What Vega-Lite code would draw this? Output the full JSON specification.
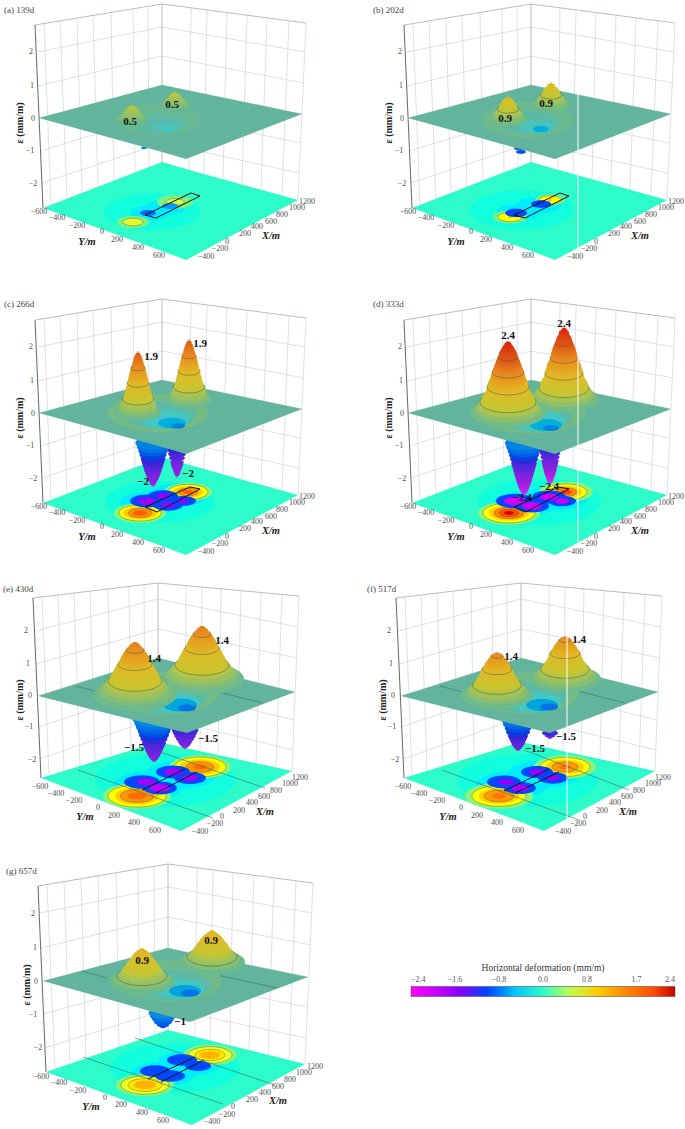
{"$schema":"https://vega.github.io/schema/vega-lite/v6.json","padding":0,"autosize":{"type":"pad"},"background":"white","config":{"view":{"stroke":null},"headerFacet":{"labels":false,"title":null,"labelPadding":0,"titlePadding":0},"header":{"labels":false,"title":null,"labelPadding":0,"titlePadding":0}},
"data":{"values":[
{"p":["a","b","c","d"],"k":"g","u":44,"v":24,"u2":51,"v2":205},{"p":["a","b","c","d"],"k":"g","u":60,"v":21,"u2":67,"v2":199},{"p":["a","b","c","d"],"k":"g","u":77,"v":18,"u2":82,"v2":193},{"p":["a","b","c","d"],"k":"g","u":93,"v":15,"u2":98,"v2":187},{"p":["a","b","c","d"],"k":"g","u":111,"v":12,"u2":114,"v2":180},{"p":["a","b","c","d"],"k":"g","u":133,"v":9,"u2":135,"v2":173},{"p":["a","b","c","d"],"k":"g","u":148,"v":6,"u2":149,"v2":167},
{"p":["a","b","c","d"],"k":"g","u":191,"v":8,"u2":189,"v2":170},{"p":["a","b","c","d"],"k":"g","u":207,"v":10,"u2":204,"v2":174},{"p":["a","b","c","d"],"k":"g","u":227,"v":13,"u2":223,"v2":179},{"p":["a","b","c","d"],"k":"g","u":247,"v":15,"u2":242,"v2":184},{"p":["a","b","c","d"],"k":"g","u":267,"v":18,"u2":261,"v2":190},{"p":["a","b","c","d"],"k":"g","u":289,"v":21,"u2":282,"v2":195},
{"p":["a","b","c","d"],"k":"g","u":38,"v":52,"u2":162,"v2":27},{"p":["a","b","c","d"],"k":"g","u":38,"v":86,"u2":162,"v2":56},{"p":["a","b","c","d"],"k":"g","u":39,"v":118,"u2":162,"v2":85},{"p":["a","b","c","d"],"k":"g","u":40,"v":151,"u2":162,"v2":114},{"p":["a","b","c","d"],"k":"g","u":42,"v":183,"u2":162,"v2":143},
{"p":["a","b","c","d"],"k":"g","u":162,"v":27,"u2":305,"v2":52},{"p":["a","b","c","d"],"k":"g","u":162,"v":56,"u2":304,"v2":83},{"p":["a","b","c","d"],"k":"g","u":162,"v":85,"u2":302,"v2":114},{"p":["a","b","c","d"],"k":"g","u":162,"v":114,"u2":300,"v2":143},{"p":["a","b","c","d"],"k":"g","u":162,"v":143,"u2":299,"v2":173},
{"p":["a","b","c","d"],"k":"g","u":306,"v":23,"u2":298,"v2":200},
{"p":["a","b","c","d"],"k":"e","u":35,"v":25,"u2":162,"v2":4},{"p":["a","b","c","d"],"k":"e","u":162,"v":4,"u2":306,"v2":23},{"p":["a","b","c","d"],"k":"e","u":162,"v":4,"u2":162,"v2":162},{"p":["a","b","c","d"],"k":"d","u":35,"v":25,"u2":43,"v2":208},
{"p":["e"],"k":"g","u":42,"v":7,"u2":49,"v2":185},{"p":["e"],"k":"g","u":58,"v":5,"u2":64,"v2":181},{"p":["e"],"k":"g","u":74,"v":3,"u2":80,"v2":176},{"p":["e"],"k":"g","u":90,"v":1,"u2":95,"v2":171},{"p":["e"],"k":"g","u":108,"v":-1,"u2":111,"v2":166},{"p":["e"],"k":"g","u":129,"v":-4,"u2":131,"v2":160},{"p":["e"],"k":"g","u":144,"v":-5,"u2":145,"v2":156},
{"p":["e"],"k":"g","u":186,"v":-4,"u2":185,"v2":158},{"p":["e"],"k":"g","u":202,"v":-3,"u2":200,"v2":161},{"p":["e"],"k":"g","u":221,"v":-1,"u2":218,"v2":165},{"p":["e"],"k":"g","u":241,"v":1,"u2":237,"v2":169},{"p":["e"],"k":"g","u":261,"v":2,"u2":256,"v2":173},{"p":["e"],"k":"g","u":282,"v":4,"u2":276,"v2":178},
{"p":["e"],"k":"g","u":35,"v":41,"u2":158,"v2":9},{"p":["e"],"k":"g","u":36,"v":74,"u2":158,"v2":39},{"p":["e"],"k":"g","u":37,"v":106,"u2":158,"v2":68},{"p":["e"],"k":"g","u":38,"v":137,"u2":158,"v2":97},{"p":["e"],"k":"g","u":40,"v":169,"u2":158,"v2":127},
{"p":["e"],"k":"g","u":158,"v":9,"u2":298,"v2":37},{"p":["e"],"k":"g","u":158,"v":39,"u2":297,"v2":68},{"p":["e"],"k":"g","u":158,"v":68,"u2":295,"v2":102},{"p":["e"],"k":"g","u":158,"v":97,"u2":294,"v2":130},{"p":["e"],"k":"g","u":158,"v":127,"u2":293,"v2":160},
{"p":["e"],"k":"g","u":299,"v":6,"u2":292,"v2":181},
{"p":["e"],"k":"e","u":33,"v":8,"u2":158,"v2":-7},{"p":["e"],"k":"e","u":158,"v":-7,"u2":299,"v2":6},{"p":["e"],"k":"e","u":158,"v":-7,"u2":158,"v2":152},{"p":["e"],"k":"d","u":33,"v":8,"u2":41,"v2":188},
{"p":["f"],"k":"g","u":36,"v":7,"u2":43,"v2":185},{"p":["f"],"k":"g","u":52,"v":5,"u2":58,"v2":181},{"p":["f"],"k":"g","u":68,"v":3,"u2":74,"v2":176},{"p":["f"],"k":"g","u":84,"v":1,"u2":89,"v2":171},{"p":["f"],"k":"g","u":102,"v":-1,"u2":105,"v2":166},{"p":["f"],"k":"g","u":123,"v":-4,"u2":125,"v2":160},{"p":["f"],"k":"g","u":138,"v":-5,"u2":139,"v2":156},
{"p":["f"],"k":"g","u":180,"v":-4,"u2":179,"v2":158},{"p":["f"],"k":"g","u":196,"v":-3,"u2":194,"v2":161},{"p":["f"],"k":"g","u":215,"v":-1,"u2":212,"v2":165},{"p":["f"],"k":"g","u":235,"v":1,"u2":231,"v2":169},{"p":["f"],"k":"g","u":255,"v":2,"u2":250,"v2":173},{"p":["f"],"k":"g","u":276,"v":4,"u2":270,"v2":178},
{"p":["f"],"k":"g","u":29,"v":41,"u2":152,"v2":9},{"p":["f"],"k":"g","u":30,"v":74,"u2":152,"v2":39},{"p":["f"],"k":"g","u":31,"v":106,"u2":152,"v2":68},{"p":["f"],"k":"g","u":32,"v":137,"u2":152,"v2":97},{"p":["f"],"k":"g","u":34,"v":169,"u2":152,"v2":127},
{"p":["f"],"k":"g","u":152,"v":9,"u2":292,"v2":37},{"p":["f"],"k":"g","u":152,"v":39,"u2":291,"v2":68},{"p":["f"],"k":"g","u":152,"v":68,"u2":289,"v2":102},{"p":["f"],"k":"g","u":152,"v":97,"u2":288,"v2":130},{"p":["f"],"k":"g","u":152,"v":127,"u2":287,"v2":160},
{"p":["f"],"k":"g","u":293,"v":6,"u2":286,"v2":181},
{"p":["f"],"k":"e","u":27,"v":8,"u2":152,"v2":-7},{"p":["f"],"k":"e","u":152,"v":-7,"u2":293,"v2":6},{"p":["f"],"k":"e","u":152,"v":-7,"u2":152,"v2":152},{"p":["f"],"k":"d","u":27,"v":8,"u2":35,"v2":188},
{"p":["g"],"k":"g","u":47,"v":0,"u2":55,"v2":184},{"p":["g"],"k":"g","u":64,"v":-3,"u2":70,"v2":179},{"p":["g"],"k":"g","u":81,"v":-6,"u2":86,"v2":173},{"p":["g"],"k":"g","u":98,"v":-9,"u2":102,"v2":168},{"p":["g"],"k":"g","u":116,"v":-12,"u2":119,"v2":162},{"p":["g"],"k":"g","u":138,"v":-16,"u2":140,"v2":155},{"p":["g"],"k":"g","u":154,"v":-19,"u2":155,"v2":150},
{"p":["g"],"k":"g","u":197,"v":-17,"u2":195,"v2":152},{"p":["g"],"k":"g","u":213,"v":-15,"u2":210,"v2":156},{"p":["g"],"k":"g","u":233,"v":-12,"u2":230,"v2":160},{"p":["g"],"k":"g","u":254,"v":-10,"u2":249,"v2":165},{"p":["g"],"k":"g","u":274,"v":-7,"u2":268,"v2":170},{"p":["g"],"k":"g","u":296,"v":-4,"u2":289,"v2":175},
{"p":["g"],"k":"g","u":40,"v":28,"u2":168,"v2":2},{"p":["g"],"k":"g","u":41,"v":63,"u2":168,"v2":32},{"p":["g"],"k":"g","u":43,"v":96,"u2":168,"v2":63},{"p":["g"],"k":"g","u":44,"v":129,"u2":168,"v2":94},{"p":["g"],"k":"g","u":45,"v":163,"u2":168,"v2":124},
{"p":["g"],"k":"g","u":168,"v":2,"u2":312,"v2":28},{"p":["g"],"k":"g","u":168,"v":32,"u2":311,"v2":60},{"p":["g"],"k":"g","u":168,"v":63,"u2":308,"v2":92},{"p":["g"],"k":"g","u":168,"v":94,"u2":307,"v2":122},{"p":["g"],"k":"g","u":168,"v":124,"u2":306,"v2":153},
{"p":["g"],"k":"g","u":313,"v":-2,"u2":305,"v2":179},
{"p":["g"],"k":"e","u":38,"v":1,"u2":168,"v2":-21},{"p":["g"],"k":"e","u":168,"v":-21,"u2":313,"v2":-2},{"p":["g"],"k":"e","u":168,"v":-21,"u2":168,"v2":145},{"p":["g"],"k":"d","u":38,"v":1,"u2":46,"v2":187},

{"p":["a","b","c","d"],"k":"f","e":0,"u":43,"v":208,"v2":208},{"p":["a","b","c","d"],"k":"f","e":0,"u":162,"v":162,"v2":251},{"p":["a","b","c","d"],"k":"f","e":0,"u":186,"v":169,"v2":260},{"p":["a","b","c","d"],"k":"f","e":0,"u":298,"v":200,"v2":200},
{"p":["e"],"k":"f","e":0,"u":41,"v":188,"v2":188},{"p":["e"],"k":"f","e":0,"u":158,"v":152,"v2":232},{"p":["e"],"k":"f","e":0,"u":181,"v":157,"v2":241},{"p":["e"],"k":"f","e":0,"u":292,"v":181,"v2":181},
{"p":["f"],"k":"f","e":0,"u":35,"v":188,"v2":188},{"p":["f"],"k":"f","e":0,"u":152,"v":152,"v2":232},{"p":["f"],"k":"f","e":0,"u":175,"v":157,"v2":241},{"p":["f"],"k":"f","e":0,"u":286,"v":181,"v2":181},
{"p":["g"],"k":"f","e":0,"u":46,"v":187,"v2":187},{"p":["g"],"k":"f","e":0,"u":168,"v":145,"v2":231},{"p":["g"],"k":"f","e":0,"u":192,"v":151,"v2":240},{"p":["g"],"k":"f","e":0,"u":305,"v":179,"v2":179},

{"p":["a","b","c","d"],"k":"q","e":0,"u":39,"v":118,"v2":118},{"p":["a","b","c","d"],"k":"q","e":0,"u":162,"v":85,"v2":152},{"p":["a","b","c","d"],"k":"q","e":0,"u":186,"v":90,"v2":159},{"p":["a","b","c","d"],"k":"q","e":0,"u":302,"v":114,"v2":114},
{"p":["e"],"k":"q","e":0,"u":38,"v":106,"v2":106},{"p":["e"],"k":"q","e":0,"u":158,"v":68,"v2":136},{"p":["e"],"k":"q","e":0,"u":187,"v":75,"v2":143},{"p":["e"],"k":"q","e":0,"u":295,"v":102,"v2":102},
{"p":["f"],"k":"q","e":0,"u":32,"v":106,"v2":106},{"p":["f"],"k":"q","e":0,"u":152,"v":68,"v2":136},{"p":["f"],"k":"q","e":0,"u":181,"v":75,"v2":143},{"p":["f"],"k":"q","e":0,"u":289,"v":102,"v2":102},
{"p":["g"],"k":"q","e":0,"u":43,"v":96,"v2":96},{"p":["g"],"k":"q","e":0,"u":168,"v":63,"v2":131},{"p":["g"],"k":"q","e":0,"u":190,"v":68,"v2":137},{"p":["g"],"k":"q","e":0,"u":308,"v":92,"v2":92},

{"p":"a","k":"b","u":152,"v":212,"e":-0.06,"r":48},{"p":"a","k":"b","u":150,"v":213,"e":-0.3,"r":20},{"p":"a","k":"b","u":165,"v":208,"e":-0.3,"r":20},{"p":"a","k":"b","u":133,"v":222,"e":0.25,"r":16},{"p":"a","k":"b","u":133,"v":222,"e":0.6,"r":10,"c":1},{"p":"a","k":"b","u":175,"v":202,"e":0.25,"r":18},{"p":"a","k":"b","u":175,"v":202,"e":0.55,"r":9,"c":1},{"p":"a","k":"b","u":148,"v":213,"e":-0.9,"r":8},{"p":"a","k":"b","u":170,"v":206,"e":-0.7,"r":8},
{"p":"b","k":"b","u":153,"v":210,"e":-0.06,"r":52},{"p":"b","k":"b","u":150,"v":212,"e":-0.3,"r":22},{"p":"b","k":"b","u":170,"v":205,"e":-0.3,"r":22},{"p":"b","k":"b","u":141,"v":217,"e":0.25,"r":17},{"p":"b","k":"b","u":141,"v":217,"e":0.7,"r":12,"c":1},{"p":"b","k":"b","u":141,"v":217,"e":1.3,"r":2},{"p":"b","k":"b","u":181,"v":200,"e":0.25,"r":15},{"p":"b","k":"b","u":181,"v":200,"e":0.7,"r":11,"c":1},{"p":"b","k":"b","u":181,"v":200,"e":1.3,"r":2},{"p":"b","k":"b","u":147,"v":213,"e":-1,"r":11},{"p":"b","k":"b","u":172,"v":204,"e":-1,"r":10},
{"p":"c","k":"b","u":160,"v":207,"e":-0.06,"r":55},{"p":"c","k":"b","u":150,"v":208,"e":-0.3,"r":30},{"p":"c","k":"b","u":178,"v":200,"e":-0.3,"r":30},
{"p":"c","k":"b","u":140,"v":218,"e":0.3,"r":26},{"p":"c","k":"b","u":140,"v":218,"e":0.7,"r":21,"c":1},{"p":"c","k":"b","u":140,"v":218,"e":1,"r":17},{"p":"c","k":"b","u":140,"v":218,"e":1.4,"r":12,"c":1},{"p":"c","k":"b","u":140,"v":218,"e":1.9,"r":7},{"p":"c","k":"b","u":188,"v":197,"e":0.3,"r":24},{"p":"c","k":"b","u":188,"v":197,"e":0.7,"r":20,"c":1},{"p":"c","k":"b","u":188,"v":197,"e":1,"r":15},{"p":"c","k":"b","u":188,"v":197,"e":1.4,"r":10,"c":1},{"p":"c","k":"b","u":188,"v":197,"e":1.9,"r":5},
{"p":"c","k":"b","u":147,"v":206,"e":-1,"r":17},{"p":"c","k":"b","u":168,"v":210,"e":-1,"r":15},{"p":"c","k":"b","u":163,"v":201,"e":-1,"r":15},{"p":"c","k":"b","u":183,"v":206,"e":-1,"r":13},{"p":"c","k":"b","u":147,"v":206,"e":-1.7,"r":9},{"p":"c","k":"b","u":168,"v":210,"e":-1.6,"r":7},{"p":"c","k":"b","u":163,"v":201,"e":-1.6,"r":7},{"p":"c","k":"b","u":183,"v":206,"e":-1.6,"r":6},
{"p":"d","k":"b","u":170,"v":207,"e":-0.06,"r":62},{"p":"d","k":"b","u":155,"v":209,"e":-0.3,"r":32},{"p":"d","k":"b","u":187,"v":203,"e":-0.3,"r":32},
{"p":"d","k":"b","u":140,"v":218,"e":0.3,"r":31},{"p":"d","k":"b","u":140,"v":218,"e":0.7,"r":26,"c":1},{"p":"d","k":"b","u":140,"v":218,"e":1,"r":20},{"p":"d","k":"b","u":140,"v":218,"e":1.5,"r":15,"c":1},{"p":"d","k":"b","u":140,"v":218,"e":2,"r":10,"c":1},{"p":"d","k":"b","u":140,"v":218,"e":2.35,"r":5},{"p":"d","k":"b","u":197,"v":197,"e":0.3,"r":27},{"p":"d","k":"b","u":197,"v":197,"e":0.7,"r":21,"c":1},{"p":"d","k":"b","u":197,"v":197,"e":1,"r":16},{"p":"d","k":"b","u":197,"v":197,"e":1.5,"r":11,"c":1},{"p":"d","k":"b","u":197,"v":197,"e":2.1,"r":6},
{"p":"d","k":"b","u":146,"v":206,"e":-1,"r":19},{"p":"d","k":"b","u":163,"v":211,"e":-1,"r":17},{"p":"d","k":"b","u":180,"v":202,"e":-1,"r":17},{"p":"d","k":"b","u":193,"v":206,"e":-1,"r":14},{"p":"d","k":"b","u":146,"v":206,"e":-2,"r":11},{"p":"d","k":"b","u":163,"v":211,"e":-2,"r":10},{"p":"d","k":"b","u":180,"v":202,"e":-2,"r":9},{"p":"d","k":"b","u":193,"v":206,"e":-2,"r":7},
{"p":"e","k":"b","u":165,"v":190,"e":-0.06,"r":70},{"p":"e","k":"b","u":150,"v":195,"e":-0.3,"r":36},{"p":"e","k":"b","u":182,"v":184,"e":-0.3,"r":36},
{"p":"e","k":"b","u":137,"v":206,"e":0.3,"r":34},{"p":"e","k":"b","u":137,"v":206,"e":0.7,"r":29,"c":1},{"p":"e","k":"b","u":137,"v":206,"e":1,"r":22},{"p":"e","k":"b","u":137,"v":206,"e":1.35,"r":17,"c":1},{"p":"e","k":"b","u":137,"v":206,"e":1.75,"r":9},{"p":"e","k":"b","u":200,"v":177,"e":0.3,"r":31},{"p":"e","k":"b","u":200,"v":177,"e":0.7,"r":26,"c":1},{"p":"e","k":"b","u":200,"v":177,"e":1,"r":20},{"p":"e","k":"b","u":200,"v":177,"e":1.35,"r":14,"c":1},{"p":"e","k":"b","u":200,"v":177,"e":1.75,"r":7},
{"p":"e","k":"b","u":142,"v":192,"e":-1,"r":18},{"p":"e","k":"b","u":160,"v":198,"e":-1,"r":17},{"p":"e","k":"b","u":173,"v":182,"e":-1,"r":17},{"p":"e","k":"b","u":190,"v":188,"e":-1,"r":16},{"p":"e","k":"b","u":146,"v":192,"e":-1.7,"r":9},{"p":"e","k":"b","u":160,"v":198,"e":-1.9,"r":10},{"p":"e","k":"b","u":173,"v":182,"e":-1.7,"r":9},{"p":"e","k":"b","u":190,"v":188,"e":-1.7,"r":8},
{"p":"f","k":"b","u":158,"v":190,"e":-0.06,"r":70},{"p":"f","k":"b","u":143,"v":195,"e":-0.3,"r":36},{"p":"f","k":"b","u":175,"v":184,"e":-0.3,"r":36},
{"p":"f","k":"b","u":130,"v":206,"e":0.3,"r":34},{"p":"f","k":"b","u":130,"v":206,"e":0.7,"r":27,"c":1},{"p":"f","k":"b","u":130,"v":206,"e":1,"r":20},{"p":"f","k":"b","u":130,"v":206,"e":1.3,"r":15,"c":1},{"p":"f","k":"b","u":130,"v":206,"e":1.7,"r":7},{"p":"f","k":"b","u":196,"v":177,"e":0.3,"r":31},{"p":"f","k":"b","u":196,"v":177,"e":0.7,"r":25,"c":1},{"p":"f","k":"b","u":196,"v":177,"e":1,"r":19},{"p":"f","k":"b","u":196,"v":177,"e":1.3,"r":13,"c":1},{"p":"f","k":"b","u":196,"v":177,"e":1.7,"r":6},
{"p":"f","k":"b","u":135,"v":192,"e":-1,"r":17},{"p":"f","k":"b","u":151,"v":198,"e":-1,"r":16},{"p":"f","k":"b","u":168,"v":182,"e":-1,"r":16},{"p":"f","k":"b","u":184,"v":188,"e":-1,"r":15},{"p":"f","k":"b","u":137,"v":192,"e":-1.6,"r":8},{"p":"f","k":"b","u":151,"v":198,"e":-1.75,"r":9},{"p":"f","k":"b","u":168,"v":182,"e":-1.6,"r":8},{"p":"f","k":"b","u":184,"v":188,"e":-1.6,"r":7},
{"p":"g","k":"b","u":175,"v":183,"e":-0.06,"r":65},{"p":"g","k":"b","u":163,"v":189,"e":-0.3,"r":32},{"p":"g","k":"b","u":190,"v":178,"e":-0.3,"r":32},
{"p":"g","k":"b","u":145,"v":200,"e":0.3,"r":29},{"p":"g","k":"b","u":145,"v":200,"e":0.65,"r":24,"c":1},{"p":"g","k":"b","u":145,"v":200,"e":0.85,"r":17,"c":1},{"p":"g","k":"b","u":145,"v":200,"e":1.15,"r":11},{"p":"g","k":"b","u":210,"v":170,"e":0.3,"r":27},{"p":"g","k":"b","u":210,"v":170,"e":0.65,"r":22,"c":1},{"p":"g","k":"b","u":210,"v":170,"e":0.85,"r":15,"c":1},{"p":"g","k":"b","u":210,"v":170,"e":1.15,"r":10},
{"p":"g","k":"b","u":155,"v":186,"e":-1,"r":15},{"p":"g","k":"b","u":170,"v":191,"e":-1,"r":15},{"p":"g","k":"b","u":182,"v":175,"e":-1,"r":15},{"p":"g","k":"b","u":198,"v":181,"e":-1,"r":13},

{"p":["a","b"],"k":"x","u":145,"v":215,"u2":191,"v2":193},{"p":["a","b"],"k":"x","u":191,"v":193,"u2":200,"v2":196},{"p":["a","b"],"k":"x","u":200,"v":196,"u2":156,"v2":218},{"p":["a","b"],"k":"x","u":156,"v":218,"u2":145,"v2":215},
{"p":["c","d"],"k":"x","u":145,"v":212,"u2":190,"v2":192},{"p":["c","d"],"k":"x","u":190,"v":192,"u2":200,"v2":194},{"p":["c","d"],"k":"x","u":200,"v":194,"u2":157,"v2":217},{"p":["c","d"],"k":"x","u":157,"v":217,"u2":145,"v2":212},
{"p":"e","k":"x","u":142,"v":200,"u2":185,"v2":179},{"p":"e","k":"x","u":156,"v":203,"u2":197,"v2":182},{"p":"f","k":"x","u":135,"v":201,"u2":180,"v2":179},{"p":"f","k":"x","u":146,"v":203,"u2":190,"v2":182},{"p":"g","k":"x","u":148,"v":194,"u2":195,"v2":172},{"p":"g","k":"x","u":161,"v":197,"u2":204,"v2":175},
{"p":"e","k":"y","u":78,"v":180,"u2":213,"v2":228},{"p":"e","k":"y","u":160,"v":162,"u2":265,"v2":198},{"p":"f","k":"y","u":73,"v":180,"u2":210,"v2":230},{"p":"f","k":"y","u":155,"v":160,"u2":260,"v2":200},{"p":"g","k":"y","u":83,"v":172,"u2":223,"v2":219},{"p":"g","k":"y","u":135,"v":153,"u2":275,"v2":200},

{"p":"a","k":"m","u":144,"v":148,"e":-0.6,"r":3},
{"p":"b","k":"m","u":152,"v":152,"e":-0.9,"r":5},{"p":"b","k":"m","u":152,"v":148,"e":-0.8,"r":7},
{"p":"c","k":"m","u":177,"v":182,"e":-2,"r":1.2},{"p":"c","k":"m","u":177,"v":180.5,"e":-1.95,"r":2.2},{"p":"c","k":"m","u":177,"v":179,"e":-1.9,"r":3},{"p":"c","k":"m","u":177,"v":177,"e":-1.84,"r":3.7},{"p":"c","k":"m","u":177,"v":175,"e":-1.78,"r":4.4},{"p":"c","k":"m","u":177,"v":173,"e":-1.71,"r":5.1},{"p":"c","k":"m","u":177,"v":171,"e":-1.64,"r":5.8},{"p":"c","k":"m","u":177,"v":169,"e":-1.58,"r":6.3},{"p":"c","k":"m","u":177,"v":167,"e":-1.52,"r":6.8},{"p":"c","k":"m","u":177,"v":163,"e":-1.38,"r":7.9},{"p":"c","k":"m","u":177,"v":159,"e":-1.26,"r":8.9},{"p":"c","k":"m","u":177,"v":155,"e":-1.12,"r":9.9},
{"p":"c","k":"m","u":153,"v":191,"e":-2,"r":1.5},{"p":"c","k":"m","u":153,"v":189.5,"e":-1.95,"r":2.8},{"p":"c","k":"m","u":153,"v":188,"e":-1.9,"r":3.6},{"p":"c","k":"m","u":153,"v":186,"e":-1.83,"r":4.6},{"p":"c","k":"m","u":153,"v":184,"e":-1.77,"r":5.6},{"p":"c","k":"m","u":153,"v":182,"e":-1.7,"r":6.4},{"p":"c","k":"m","u":153,"v":180,"e":-1.64,"r":7.1},{"p":"c","k":"m","u":153,"v":178,"e":-1.57,"r":7.9},{"p":"c","k":"m","u":153,"v":176,"e":-1.5,"r":8.6},{"p":"c","k":"m","u":153,"v":174,"e":-1.44,"r":9.2},{"p":"c","k":"m","u":153,"v":172,"e":-1.38,"r":9.8},{"p":"c","k":"m","u":153,"v":170,"e":-1.31,"r":10.4},{"p":"c","k":"m","u":153,"v":168,"e":-1.24,"r":11},{"p":"c","k":"m","u":153,"v":166,"e":-1.18,"r":11.6},{"p":"c","k":"m","u":153,"v":164,"e":-1.12,"r":12.2},{"p":"c","k":"m","u":153,"v":160,"e":-0.98,"r":13.5},{"p":"c","k":"m","u":153,"v":156,"e":-0.86,"r":14.7},{"p":"c","k":"m","u":153,"v":152,"e":-0.72,"r":16},{"p":"c","k":"m","u":153,"v":148,"e":-0.6,"r":17.6},
{"p":"d","k":"m","u":181,"v":190,"e":-2.4,"r":1.3},{"p":"d","k":"m","u":181,"v":188,"e":-2.33,"r":2.3},{"p":"d","k":"m","u":181,"v":186,"e":-2.26,"r":3.3},{"p":"d","k":"m","u":181,"v":184,"e":-2.18,"r":4},{"p":"d","k":"m","u":181,"v":182,"e":-2.11,"r":4.7},{"p":"d","k":"m","u":181,"v":180,"e":-2.04,"r":5.3},{"p":"d","k":"m","u":181,"v":178,"e":-1.97,"r":5.9},{"p":"d","k":"m","u":181,"v":176,"e":-1.9,"r":6.4},{"p":"d","k":"m","u":181,"v":174,"e":-1.82,"r":6.8},{"p":"d","k":"m","u":181,"v":172,"e":-1.76,"r":7.3},{"p":"d","k":"m","u":181,"v":170,"e":-1.7,"r":7.7},{"p":"d","k":"m","u":181,"v":168,"e":-1.63,"r":8.2},{"p":"d","k":"m","u":181,"v":166,"e":-1.56,"r":8.6},{"p":"d","k":"m","u":181,"v":162,"e":-1.42,"r":9.5},{"p":"d","k":"m","u":181,"v":158,"e":-1.27,"r":10.4},{"p":"d","k":"m","u":181,"v":154,"e":-1.13,"r":11.3},
{"p":"d","k":"m","u":155,"v":200,"e":-2.4,"r":1.6},{"p":"d","k":"m","u":155,"v":198,"e":-2.33,"r":2.8},{"p":"d","k":"m","u":155,"v":196,"e":-2.26,"r":4},{"p":"d","k":"m","u":155,"v":194,"e":-2.18,"r":5},{"p":"d","k":"m","u":155,"v":192,"e":-2.11,"r":5.8},{"p":"d","k":"m","u":155,"v":190,"e":-2.04,"r":6.5},{"p":"d","k":"m","u":155,"v":188,"e":-1.97,"r":7.2},{"p":"d","k":"m","u":155,"v":186,"e":-1.9,"r":7.8},{"p":"d","k":"m","u":155,"v":184,"e":-1.82,"r":8.3},{"p":"d","k":"m","u":155,"v":182,"e":-1.76,"r":8.9},{"p":"d","k":"m","u":155,"v":180,"e":-1.7,"r":9.4},{"p":"d","k":"m","u":155,"v":178,"e":-1.63,"r":10},{"p":"d","k":"m","u":155,"v":176,"e":-1.56,"r":10.6},{"p":"d","k":"m","u":155,"v":174,"e":-1.49,"r":11.2},{"p":"d","k":"m","u":155,"v":172,"e":-1.42,"r":11.7},{"p":"d","k":"m","u":155,"v":170,"e":-1.35,"r":12.3},{"p":"d","k":"m","u":155,"v":168,"e":-1.27,"r":12.8},{"p":"d","k":"m","u":155,"v":164,"e":-1.13,"r":13.9},{"p":"d","k":"m","u":155,"v":160,"e":-0.98,"r":15},{"p":"d","k":"m","u":155,"v":156,"e":-0.84,"r":16.3},{"p":"d","k":"m","u":155,"v":152,"e":-0.7,"r":17.8},{"p":"d","k":"m","u":155,"v":148,"e":-0.58,"r":19},
{"p":"e","k":"m","u":185,"v":158,"e":-1.8,"r":2},{"p":"e","k":"m","u":185,"v":156.5,"e":-1.75,"r":3.6},{"p":"e","k":"m","u":185,"v":155,"e":-1.7,"r":5},{"p":"e","k":"m","u":185,"v":153.5,"e":-1.65,"r":6},{"p":"e","k":"m","u":185,"v":152,"e":-1.6,"r":7},{"p":"e","k":"m","u":185,"v":149,"e":-1.5,"r":9},{"p":"e","k":"m","u":185,"v":146,"e":-1.4,"r":10.7},{"p":"e","k":"m","u":185,"v":143,"e":-1.3,"r":12},{"p":"e","k":"m","u":185,"v":140,"e":-1.2,"r":13.4},
{"p":"e","k":"m","u":154,"v":171,"e":-1.8,"r":2},{"p":"e","k":"m","u":154,"v":169.5,"e":-1.75,"r":3.4},{"p":"e","k":"m","u":154,"v":168,"e":-1.7,"r":4.6},{"p":"e","k":"m","u":154,"v":166.5,"e":-1.65,"r":5.6},{"p":"e","k":"m","u":154,"v":165,"e":-1.6,"r":6.4},{"p":"e","k":"m","u":154,"v":163,"e":-1.55,"r":7.4},{"p":"e","k":"m","u":154,"v":161,"e":-1.5,"r":8.4},{"p":"e","k":"m","u":154,"v":159,"e":-1.45,"r":9.2},{"p":"e","k":"m","u":154,"v":157,"e":-1.4,"r":10},{"p":"e","k":"m","u":154,"v":155,"e":-1.33,"r":11},{"p":"e","k":"m","u":154,"v":153,"e":-1.26,"r":12},{"p":"e","k":"m","u":154,"v":149,"e":-1.15,"r":13.4},{"p":"e","k":"m","u":154,"v":145,"e":-1.03,"r":15},{"p":"e","k":"m","u":154,"v":141,"e":-0.92,"r":16.4},{"p":"e","k":"m","u":154,"v":137,"e":-0.8,"r":18},{"p":"e","k":"m","u":154,"v":133,"e":-0.68,"r":19.6},{"p":"e","k":"m","u":154,"v":129,"e":-0.56,"r":21.6},
{"p":"f","k":"m","u":181,"v":148,"e":-1.5,"r":2},{"p":"f","k":"m","u":181,"v":146,"e":-1.4,"r":5},{"p":"f","k":"m","u":181,"v":143,"e":-1.2,"r":8},
{"p":"f","k":"m","u":149,"v":160,"e":-1.6,"r":2},{"p":"f","k":"m","u":149,"v":158.5,"e":-1.55,"r":3.4},{"p":"f","k":"m","u":149,"v":157,"e":-1.5,"r":4.5},{"p":"f","k":"m","u":149,"v":155.5,"e":-1.45,"r":5.6},{"p":"f","k":"m","u":149,"v":154,"e":-1.4,"r":6.5},{"p":"f","k":"m","u":149,"v":152,"e":-1.35,"r":7.4},{"p":"f","k":"m","u":149,"v":150,"e":-1.3,"r":8.3},{"p":"f","k":"m","u":149,"v":148,"e":-1.23,"r":9.2},{"p":"f","k":"m","u":149,"v":146,"e":-1.17,"r":10},{"p":"f","k":"m","u":149,"v":142,"e":-1.04,"r":12},{"p":"f","k":"m","u":149,"v":138,"e":-0.93,"r":13.3},{"p":"f","k":"m","u":149,"v":134,"e":-0.8,"r":15},{"p":"f","k":"m","u":149,"v":130,"e":-0.67,"r":16.7},
{"p":"g","k":"m","u":163,"v":142,"e":-1,"r":3},{"p":"g","k":"m","u":163,"v":140,"e":-0.95,"r":6},{"p":"g","k":"m","u":163,"v":137,"e":-0.85,"r":9},{"p":"g","k":"m","u":163,"v":134,"e":-0.75,"r":11},{"p":"g","k":"m","u":163,"v":131,"e":-0.65,"r":13},{"p":"g","k":"m","u":163,"v":128,"e":-0.55,"r":14.5},

{"p":"e","k":"z","u":157,"v":87,"u2":263,"v2":113},{"p":"e","k":"z","u":75,"v":96,"u2":100,"v2":102},{"p":"f","k":"z","u":153,"v":87,"u2":256,"v2":113},{"p":"f","k":"z","u":71,"v":96,"u2":93,"v2":102},{"p":"g","k":"z","u":157,"v":77,"u2":277,"v2":103},{"p":"g","k":"z","u":82,"v":86,"u2":107,"v2":93},

{"p":"a","k":"s","u":158,"v":120,"e":0.06,"r":42},{"p":"a","k":"s","u":160,"v":124,"e":-0.05,"r":26},{"p":"a","k":"s","u":166,"v":127,"e":-0.12,"r":14},{"p":"a","k":"s","u":170,"v":129,"e":-0.2,"r":6},
{"p":"a","k":"s","u":175,"v":106,"e":0.05,"r":18},{"p":"a","k":"s","u":175,"v":104,"e":0.13,"r":14},{"p":"a","k":"s","u":175,"v":102,"e":0.2,"r":11.5},{"p":"a","k":"s","u":175,"v":100,"e":0.28,"r":9},{"p":"a","k":"s","u":175,"v":97,"e":0.35,"r":7},{"p":"a","k":"s","u":175,"v":95,"e":0.43,"r":5},{"p":"a","k":"s","u":175,"v":93,"e":0.5,"r":1.8},
{"p":"a","k":"s","u":132,"v":120,"e":0.05,"r":18},{"p":"a","k":"s","u":132,"v":118,"e":0.13,"r":14},{"p":"a","k":"s","u":132,"v":116,"e":0.2,"r":11.5},{"p":"a","k":"s","u":132,"v":113,"e":0.28,"r":9},{"p":"a","k":"s","u":132,"v":111,"e":0.35,"r":7},{"p":"a","k":"s","u":132,"v":108,"e":0.43,"r":5},{"p":"a","k":"s","u":132,"v":106,"e":0.5,"r":1.8},
{"p":"b","k":"s","u":158,"v":120,"e":0.08,"r":46},{"p":"b","k":"s","u":160,"v":122,"e":-0.05,"r":30},{"p":"b","k":"s","u":168,"v":127,"e":-0.15,"r":18},{"p":"b","k":"s","u":172,"v":129,"e":-0.35,"r":8},
{"p":"b","k":"s","u":182,"v":105,"e":0.09,"r":20},{"p":"b","k":"s","u":182,"v":103,"e":0.18,"r":16.5},{"p":"b","k":"s","u":182,"v":100,"e":0.27,"r":14.3},{"p":"b","k":"s","u":182,"v":98,"e":0.36,"r":12.5},{"p":"b","k":"s","u":182,"v":95,"e":0.45,"r":10.8,"c":1},{"p":"b","k":"s","u":182,"v":93,"e":0.54,"r":9.2},{"p":"b","k":"s","u":182,"v":90,"e":0.63,"r":7.8},{"p":"b","k":"s","u":182,"v":88,"e":0.72,"r":6.1},{"p":"b","k":"s","u":182,"v":85,"e":0.81,"r":4.2},{"p":"b","k":"s","u":182,"v":83,"e":0.9,"r":1.6},
{"p":"b","k":"s","u":139,"v":119,"e":0.09,"r":20},{"p":"b","k":"s","u":139,"v":117,"e":0.18,"r":16.5},{"p":"b","k":"s","u":139,"v":114,"e":0.27,"r":14.3},{"p":"b","k":"s","u":139,"v":112,"e":0.36,"r":12.5},{"p":"b","k":"s","u":139,"v":109,"e":0.45,"r":10.8,"c":1},{"p":"b","k":"s","u":139,"v":106,"e":0.54,"r":9.2},{"p":"b","k":"s","u":139,"v":104,"e":0.63,"r":7.8},{"p":"b","k":"s","u":139,"v":101,"e":0.72,"r":6.1},{"p":"b","k":"s","u":139,"v":99,"e":0.81,"r":4.2},{"p":"b","k":"s","u":139,"v":96,"e":0.9,"r":1.6},
{"p":"c","k":"s","u":158,"v":118,"e":0.12,"r":50},{"p":"c","k":"s","u":160,"v":120,"e":-0.05,"r":36},{"p":"c","k":"s","u":165,"v":124,"e":-0.18,"r":25},{"p":"c","k":"s","u":172,"v":128,"e":-0.35,"r":14},{"p":"c","k":"s","u":178,"v":131,"e":-0.6,"r":7},
{"p":"c","k":"s","u":189,"v":105,"e":0.1,"r":23},{"p":"c","k":"s","u":189,"v":102,"e":0.19,"r":20},{"p":"c","k":"s","u":189,"v":99,"e":0.29,"r":18.4},{"p":"c","k":"s","u":189,"v":95,"e":0.38,"r":17},{"p":"c","k":"s","u":189,"v":92,"e":0.48,"r":15.7,"c":1},{"p":"c","k":"s","u":189,"v":89,"e":0.57,"r":14.6},{"p":"c","k":"s","u":189,"v":86,"e":0.67,"r":13.6},{"p":"c","k":"s","u":189,"v":83,"e":0.76,"r":12.8},{"p":"c","k":"s","u":189,"v":81.5,"e":0.81,"r":12.3},{"p":"c","k":"s","u":189,"v":80,"e":0.86,"r":11.8},{"p":"c","k":"s","u":189,"v":78,"e":0.9,"r":11.4},{"p":"c","k":"s","u":189,"v":76,"e":0.95,"r":11,"c":1},{"p":"c","k":"s","u":189,"v":74.5,"e":1,"r":10.6},{"p":"c","k":"s","u":189,"v":73,"e":1.05,"r":10.2},{"p":"c","k":"s","u":189,"v":71.5,"e":1.1,"r":9.8},{"p":"c","k":"s","u":189,"v":70,"e":1.14,"r":9.4},{"p":"c","k":"s","u":189,"v":68.5,"e":1.19,"r":9.1},{"p":"c","k":"s","u":189,"v":67,"e":1.24,"r":8.8},{"p":"c","k":"s","u":189,"v":65.5,"e":1.28,"r":8.4},{"p":"c","k":"s","u":189,"v":64,"e":1.33,"r":8},{"p":"c","k":"s","u":189,"v":62.5,"e":1.38,"r":7.6},{"p":"c","k":"s","u":189,"v":61,"e":1.43,"r":7.2,"c":1},{"p":"c","k":"s","u":189,"v":59.5,"e":1.48,"r":6.8},{"p":"c","k":"s","u":189,"v":58,"e":1.52,"r":6.3},{"p":"c","k":"s","u":189,"v":56,"e":1.57,"r":5.8},{"p":"c","k":"s","u":189,"v":54,"e":1.62,"r":5.3},{"p":"c","k":"s","u":189,"v":52.5,"e":1.67,"r":4.8},{"p":"c","k":"s","u":189,"v":51,"e":1.71,"r":4.3},{"p":"c","k":"s","u":189,"v":49.5,"e":1.76,"r":3.7},{"p":"c","k":"s","u":189,"v":48,"e":1.81,"r":3},{"p":"c","k":"s","u":189,"v":46.5,"e":1.86,"r":2.3},{"p":"c","k":"s","u":189,"v":45,"e":1.9,"r":1.2},
{"p":"c","k":"s","u":138,"v":117,"e":0.1,"r":23},{"p":"c","k":"s","u":138,"v":114,"e":0.19,"r":20},{"p":"c","k":"s","u":138,"v":111,"e":0.29,"r":18.4},{"p":"c","k":"s","u":138,"v":107,"e":0.38,"r":17},{"p":"c","k":"s","u":138,"v":104,"e":0.48,"r":15.7,"c":1},{"p":"c","k":"s","u":138,"v":101,"e":0.57,"r":14.6},{"p":"c","k":"s","u":138,"v":98,"e":0.67,"r":13.6},{"p":"c","k":"s","u":138,"v":95,"e":0.76,"r":12.8},{"p":"c","k":"s","u":138,"v":93.5,"e":0.81,"r":12.3},{"p":"c","k":"s","u":138,"v":92,"e":0.86,"r":11.8},{"p":"c","k":"s","u":138,"v":90,"e":0.9,"r":11.4},{"p":"c","k":"s","u":138,"v":88,"e":0.95,"r":11,"c":1},{"p":"c","k":"s","u":138,"v":86.5,"e":1,"r":10.6},{"p":"c","k":"s","u":138,"v":85,"e":1.05,"r":10.2},{"p":"c","k":"s","u":138,"v":83.5,"e":1.1,"r":9.8},{"p":"c","k":"s","u":138,"v":82,"e":1.14,"r":9.4},{"p":"c","k":"s","u":138,"v":80.5,"e":1.19,"r":9.1},{"p":"c","k":"s","u":138,"v":79,"e":1.24,"r":8.8},{"p":"c","k":"s","u":138,"v":77.5,"e":1.28,"r":8.4},{"p":"c","k":"s","u":138,"v":76,"e":1.33,"r":8},{"p":"c","k":"s","u":138,"v":74.5,"e":1.38,"r":7.6},{"p":"c","k":"s","u":138,"v":73,"e":1.43,"r":7.2,"c":1},{"p":"c","k":"s","u":138,"v":71.5,"e":1.48,"r":6.8},{"p":"c","k":"s","u":138,"v":70,"e":1.52,"r":6.3},{"p":"c","k":"s","u":138,"v":68,"e":1.57,"r":5.8},{"p":"c","k":"s","u":138,"v":66,"e":1.62,"r":5.3},{"p":"c","k":"s","u":138,"v":64.5,"e":1.67,"r":4.8},{"p":"c","k":"s","u":138,"v":63,"e":1.71,"r":4.3},{"p":"c","k":"s","u":138,"v":61.5,"e":1.76,"r":3.7},{"p":"c","k":"s","u":138,"v":60,"e":1.81,"r":3},{"p":"c","k":"s","u":138,"v":58.5,"e":1.86,"r":2.3},{"p":"c","k":"s","u":138,"v":57,"e":1.9,"r":1.2},
{"p":"d","k":"s","u":162,"v":118,"e":0.12,"r":54},{"p":"d","k":"s","u":165,"v":122,"e":-0.05,"r":38},{"p":"d","k":"s","u":170,"v":126,"e":-0.18,"r":27},{"p":"d","k":"s","u":177,"v":130,"e":-0.35,"r":16},{"p":"d","k":"s","u":182,"v":133,"e":-0.6,"r":8},
{"p":"d","k":"s","u":195,"v":104,"e":0.12,"r":35},{"p":"d","k":"s","u":195,"v":100.5,"e":0.24,"r":30},{"p":"d","k":"s","u":195,"v":97,"e":0.36,"r":28},{"p":"d","k":"s","u":195,"v":93,"e":0.48,"r":25,"c":1},{"p":"d","k":"s","u":195,"v":89,"e":0.6,"r":24},{"p":"d","k":"s","u":195,"v":85.5,"e":0.72,"r":22},{"p":"d","k":"s","u":195,"v":82,"e":0.84,"r":20},{"p":"d","k":"s","u":195,"v":80,"e":0.9,"r":19.8},{"p":"d","k":"s","u":195,"v":78,"e":0.96,"r":19,"c":1},{"p":"d","k":"s","u":195,"v":76,"e":1.02,"r":18.7},{"p":"d","k":"s","u":195,"v":74,"e":1.08,"r":18},{"p":"d","k":"s","u":195,"v":72,"e":1.14,"r":17.5},{"p":"d","k":"s","u":195,"v":70.5,"e":1.2,"r":17},{"p":"d","k":"s","u":195,"v":68.5,"e":1.26,"r":16.3},{"p":"d","k":"s","u":195,"v":67,"e":1.32,"r":15},{"p":"d","k":"s","u":195,"v":65,"e":1.38,"r":14.5},{"p":"d","k":"s","u":195,"v":63,"e":1.44,"r":14,"c":1},{"p":"d","k":"s","u":195,"v":61,"e":1.5,"r":13.5},{"p":"d","k":"s","u":195,"v":59,"e":1.56,"r":13},{"p":"d","k":"s","u":195,"v":57,"e":1.62,"r":12.5},{"p":"d","k":"s","u":195,"v":55.5,"e":1.68,"r":12},{"p":"d","k":"s","u":195,"v":53.5,"e":1.74,"r":11.5},{"p":"d","k":"s","u":195,"v":52,"e":1.8,"r":11},{"p":"d","k":"s","u":195,"v":50,"e":1.86,"r":10},{"p":"d","k":"s","u":195,"v":48,"e":1.92,"r":9,"c":1},{"p":"d","k":"s","u":195,"v":46,"e":1.98,"r":8.5},{"p":"d","k":"s","u":195,"v":44,"e":2.04,"r":8},{"p":"d","k":"s","u":195,"v":42,"e":2.1,"r":7},{"p":"d","k":"s","u":195,"v":40.5,"e":2.16,"r":6},{"p":"d","k":"s","u":195,"v":38.5,"e":2.22,"r":5.5},{"p":"d","k":"s","u":195,"v":37,"e":2.28,"r":5},{"p":"d","k":"s","u":195,"v":35,"e":2.34,"r":3.5},{"p":"d","k":"s","u":195,"v":33.5,"e":2.38,"r":2},
{"p":"d","k":"s","u":139,"v":118,"e":0.12,"r":38},{"p":"d","k":"s","u":139,"v":114.5,"e":0.24,"r":33},{"p":"d","k":"s","u":139,"v":111,"e":0.36,"r":30},{"p":"d","k":"s","u":139,"v":107,"e":0.48,"r":28,"c":1},{"p":"d","k":"s","u":139,"v":103,"e":0.6,"r":26},{"p":"d","k":"s","u":139,"v":99.5,"e":0.72,"r":24},{"p":"d","k":"s","u":139,"v":96,"e":0.84,"r":22},{"p":"d","k":"s","u":139,"v":94,"e":0.9,"r":21.5},{"p":"d","k":"s","u":139,"v":92,"e":0.96,"r":21,"c":1},{"p":"d","k":"s","u":139,"v":90,"e":1.02,"r":20.5},{"p":"d","k":"s","u":139,"v":88,"e":1.08,"r":20},{"p":"d","k":"s","u":139,"v":86,"e":1.14,"r":19},{"p":"d","k":"s","u":139,"v":84.5,"e":1.2,"r":18},{"p":"d","k":"s","u":139,"v":82.5,"e":1.26,"r":17.5},{"p":"d","k":"s","u":139,"v":81,"e":1.32,"r":17},{"p":"d","k":"s","u":139,"v":79,"e":1.38,"r":16.5},{"p":"d","k":"s","u":139,"v":77,"e":1.44,"r":16,"c":1},{"p":"d","k":"s","u":139,"v":75,"e":1.5,"r":15.2},{"p":"d","k":"s","u":139,"v":73,"e":1.56,"r":14.5},{"p":"d","k":"s","u":139,"v":71,"e":1.62,"r":13.8},{"p":"d","k":"s","u":139,"v":69.5,"e":1.68,"r":13},{"p":"d","k":"s","u":139,"v":67.5,"e":1.74,"r":12.5},{"p":"d","k":"s","u":139,"v":66,"e":1.8,"r":12},{"p":"d","k":"s","u":139,"v":64,"e":1.86,"r":11},{"p":"d","k":"s","u":139,"v":62,"e":1.92,"r":10,"c":1},{"p":"d","k":"s","u":139,"v":60,"e":1.98,"r":9.5},{"p":"d","k":"s","u":139,"v":58,"e":2.04,"r":9},{"p":"d","k":"s","u":139,"v":56,"e":2.1,"r":8},{"p":"d","k":"s","u":139,"v":54.5,"e":2.16,"r":7},{"p":"d","k":"s","u":139,"v":52.5,"e":2.22,"r":6},{"p":"d","k":"s","u":139,"v":51,"e":2.28,"r":5},{"p":"d","k":"s","u":139,"v":49,"e":2.34,"r":3.8},{"p":"d","k":"s","u":139,"v":47.5,"e":2.38,"r":2.5},
{"p":"e","k":"s","u":163,"v":103,"e":0.12,"r":56},{"p":"e","k":"s","u":165,"v":107,"e":-0.05,"r":42},{"p":"e","k":"s","u":172,"v":112,"e":-0.18,"r":28},{"p":"e","k":"s","u":180,"v":115,"e":-0.4,"r":17},{"p":"e","k":"s","u":187,"v":118,"e":-0.7,"r":9},
{"p":"e","k":"s","u":202,"v":89,"e":0.1,"r":42},{"p":"e","k":"s","u":202,"v":85,"e":0.19,"r":36.5},{"p":"e","k":"s","u":202,"v":82,"e":0.3,"r":32},{"p":"e","k":"s","u":202,"v":78,"e":0.4,"r":29.5},{"p":"e","k":"s","u":202,"v":75,"e":0.5,"r":27,"c":1},{"p":"e","k":"s","u":202,"v":72,"e":0.6,"r":25},{"p":"e","k":"s","u":202,"v":68,"e":0.7,"r":23},{"p":"e","k":"s","u":202,"v":64.5,"e":0.8,"r":21},{"p":"e","k":"s","u":202,"v":62.5,"e":0.85,"r":20},{"p":"e","k":"s","u":202,"v":61,"e":0.9,"r":19},{"p":"e","k":"s","u":202,"v":59.5,"e":0.95,"r":18},{"p":"e","k":"s","u":202,"v":58,"e":1,"r":17,"c":1},{"p":"e","k":"s","u":202,"v":56,"e":1.05,"r":16},{"p":"e","k":"s","u":202,"v":54,"e":1.1,"r":15},{"p":"e","k":"s","u":202,"v":52.5,"e":1.15,"r":14.3},{"p":"e","k":"s","u":202,"v":51,"e":1.2,"r":13.5},{"p":"e","k":"s","u":202,"v":49,"e":1.25,"r":12.5},{"p":"e","k":"s","u":202,"v":47.5,"e":1.3,"r":11.5},{"p":"e","k":"s","u":202,"v":46,"e":1.35,"r":10.3},{"p":"e","k":"s","u":202,"v":44,"e":1.4,"r":9,"c":1},{"p":"e","k":"s","u":202,"v":42,"e":1.45,"r":7.5},{"p":"e","k":"s","u":202,"v":40,"e":1.5,"r":6},{"p":"e","k":"s","u":202,"v":38.5,"e":1.55,"r":4.3},{"p":"e","k":"s","u":202,"v":37,"e":1.6,"r":2.5},
{"p":"e","k":"s","u":135,"v":105,"e":0.1,"r":42},{"p":"e","k":"s","u":135,"v":101,"e":0.19,"r":36.5},{"p":"e","k":"s","u":135,"v":98,"e":0.3,"r":32},{"p":"e","k":"s","u":135,"v":94,"e":0.4,"r":29.5},{"p":"e","k":"s","u":135,"v":91,"e":0.5,"r":27,"c":1},{"p":"e","k":"s","u":135,"v":88,"e":0.6,"r":25},{"p":"e","k":"s","u":135,"v":84,"e":0.7,"r":23},{"p":"e","k":"s","u":135,"v":80.5,"e":0.8,"r":21},{"p":"e","k":"s","u":135,"v":78.5,"e":0.85,"r":20},{"p":"e","k":"s","u":135,"v":77,"e":0.9,"r":19},{"p":"e","k":"s","u":135,"v":75.5,"e":0.95,"r":18},{"p":"e","k":"s","u":135,"v":74,"e":1,"r":17,"c":1},{"p":"e","k":"s","u":135,"v":72,"e":1.05,"r":16},{"p":"e","k":"s","u":135,"v":70,"e":1.1,"r":15},{"p":"e","k":"s","u":135,"v":68.5,"e":1.15,"r":14.3},{"p":"e","k":"s","u":135,"v":67,"e":1.2,"r":13.5},{"p":"e","k":"s","u":135,"v":65,"e":1.25,"r":12.5},{"p":"e","k":"s","u":135,"v":63.5,"e":1.3,"r":11.5},{"p":"e","k":"s","u":135,"v":62,"e":1.35,"r":10.3},{"p":"e","k":"s","u":135,"v":60,"e":1.4,"r":9,"c":1},{"p":"e","k":"s","u":135,"v":58,"e":1.45,"r":7.5},{"p":"e","k":"s","u":135,"v":56,"e":1.5,"r":6},{"p":"e","k":"s","u":135,"v":54.5,"e":1.55,"r":4.3},{"p":"e","k":"s","u":135,"v":53,"e":1.6,"r":2.5},
{"p":"f","k":"s","u":156,"v":103,"e":0.12,"r":54},{"p":"f","k":"s","u":158,"v":107,"e":-0.05,"r":40},{"p":"f","k":"s","u":165,"v":112,"e":-0.18,"r":27},{"p":"f","k":"s","u":173,"v":115,"e":-0.4,"r":16},{"p":"f","k":"s","u":180,"v":117,"e":-0.7,"r":9},
{"p":"f","k":"s","u":196,"v":89,"e":0.1,"r":36},{"p":"f","k":"s","u":196,"v":86,"e":0.21,"r":31},{"p":"f","k":"s","u":196,"v":83,"e":0.32,"r":27.5},{"p":"f","k":"s","u":196,"v":79,"e":0.43,"r":24.4,"c":1},{"p":"f","k":"s","u":196,"v":76,"e":0.54,"r":22},{"p":"f","k":"s","u":196,"v":73,"e":0.64,"r":20},{"p":"f","k":"s","u":196,"v":69.5,"e":0.75,"r":18},{"p":"f","k":"s","u":196,"v":66,"e":0.86,"r":16.5},{"p":"f","k":"s","u":196,"v":64.5,"e":0.91,"r":15.8},{"p":"f","k":"s","u":196,"v":63,"e":0.96,"r":15,"c":1},{"p":"f","k":"s","u":196,"v":61.5,"e":1.01,"r":14},{"p":"f","k":"s","u":196,"v":60,"e":1.07,"r":13},{"p":"f","k":"s","u":196,"v":58,"e":1.12,"r":12},{"p":"f","k":"s","u":196,"v":56.5,"e":1.18,"r":11},{"p":"f","k":"s","u":196,"v":55,"e":1.23,"r":9.8},{"p":"f","k":"s","u":196,"v":53,"e":1.29,"r":8.6},{"p":"f","k":"s","u":196,"v":51.5,"e":1.34,"r":7.3},{"p":"f","k":"s","u":196,"v":50,"e":1.4,"r":6,"c":1},{"p":"f","k":"s","u":196,"v":48.5,"e":1.45,"r":4.2},{"p":"f","k":"s","u":196,"v":47,"e":1.5,"r":2.2},
{"p":"f","k":"s","u":128,"v":105,"e":0.1,"r":36},{"p":"f","k":"s","u":128,"v":102,"e":0.21,"r":31},{"p":"f","k":"s","u":128,"v":99,"e":0.32,"r":27.5},{"p":"f","k":"s","u":128,"v":95,"e":0.43,"r":24.4,"c":1},{"p":"f","k":"s","u":128,"v":92,"e":0.54,"r":22},{"p":"f","k":"s","u":128,"v":89,"e":0.64,"r":20},{"p":"f","k":"s","u":128,"v":85.5,"e":0.75,"r":18},{"p":"f","k":"s","u":128,"v":82,"e":0.86,"r":16.5},{"p":"f","k":"s","u":128,"v":80.5,"e":0.91,"r":15.8},{"p":"f","k":"s","u":128,"v":79,"e":0.96,"r":15,"c":1},{"p":"f","k":"s","u":128,"v":77.5,"e":1.01,"r":14},{"p":"f","k":"s","u":128,"v":76,"e":1.07,"r":13},{"p":"f","k":"s","u":128,"v":74,"e":1.12,"r":12},{"p":"f","k":"s","u":128,"v":72.5,"e":1.18,"r":11},{"p":"f","k":"s","u":128,"v":71,"e":1.23,"r":9.8},{"p":"f","k":"s","u":128,"v":69,"e":1.29,"r":8.6},{"p":"f","k":"s","u":128,"v":67.5,"e":1.34,"r":7.3},{"p":"f","k":"s","u":128,"v":66,"e":1.4,"r":6,"c":1},{"p":"f","k":"s","u":128,"v":64.5,"e":1.45,"r":4.2},{"p":"f","k":"s","u":128,"v":63,"e":1.5,"r":2.2},
{"p":"g","k":"s","u":168,"v":96,"e":0.1,"r":54},{"p":"g","k":"s","u":170,"v":100,"e":-0.05,"r":40},{"p":"g","k":"s","u":178,"v":104,"e":-0.18,"r":26},{"p":"g","k":"s","u":185,"v":106,"e":-0.4,"r":16},{"p":"g","k":"s","u":190,"v":108,"e":-0.7,"r":9},
{"p":"g","k":"s","u":212,"v":77,"e":0.09,"r":33},{"p":"g","k":"s","u":212,"v":74,"e":0.19,"r":28},{"p":"g","k":"s","u":212,"v":71.5,"e":0.28,"r":25,"c":1},{"p":"g","k":"s","u":212,"v":69,"e":0.36,"r":22},{"p":"g","k":"s","u":212,"v":66,"e":0.46,"r":19.5},{"p":"g","k":"s","u":212,"v":63,"e":0.55,"r":17.5},{"p":"g","k":"s","u":212,"v":60,"e":0.64,"r":15.5},{"p":"g","k":"s","u":212,"v":57,"e":0.74,"r":13},{"p":"g","k":"s","u":212,"v":55.5,"e":0.78,"r":12},{"p":"g","k":"s","u":212,"v":54.5,"e":0.83,"r":11},{"p":"g","k":"s","u":212,"v":53,"e":0.87,"r":10},{"p":"g","k":"s","u":212,"v":52,"e":0.91,"r":9},{"p":"g","k":"s","u":212,"v":50.5,"e":0.96,"r":7.5},{"p":"g","k":"s","u":212,"v":49,"e":1,"r":6},{"p":"g","k":"s","u":212,"v":47.5,"e":1.05,"r":4},{"p":"g","k":"s","u":212,"v":46,"e":1.1,"r":2},
{"p":"g","k":"s","u":142,"v":97,"e":0.09,"r":33},{"p":"g","k":"s","u":142,"v":94,"e":0.19,"r":28},{"p":"g","k":"s","u":142,"v":91,"e":0.28,"r":25,"c":1},{"p":"g","k":"s","u":142,"v":88,"e":0.36,"r":22},{"p":"g","k":"s","u":142,"v":85,"e":0.46,"r":19.5},{"p":"g","k":"s","u":142,"v":82,"e":0.55,"r":17.5},{"p":"g","k":"s","u":142,"v":79,"e":0.64,"r":15.5},{"p":"g","k":"s","u":142,"v":76,"e":0.74,"r":13},{"p":"g","k":"s","u":142,"v":74.5,"e":0.78,"r":12},{"p":"g","k":"s","u":142,"v":73,"e":0.83,"r":11},{"p":"g","k":"s","u":142,"v":71.5,"e":0.87,"r":10},{"p":"g","k":"s","u":142,"v":70,"e":0.91,"r":9},{"p":"g","k":"s","u":142,"v":68.5,"e":0.96,"r":7.5},{"p":"g","k":"s","u":142,"v":67,"e":1,"r":6},{"p":"g","k":"s","u":142,"v":65.5,"e":1.05,"r":4},{"p":"g","k":"s","u":142,"v":64,"e":1.1,"r":2},

{"p":["a","b","c","d"],"k":"l","u":31,"v":52,"t":"2"},{"p":["a","b","c","d"],"k":"l","u":32,"v":86,"t":"1"},{"p":["a","b","c","d"],"k":"l","u":33,"v":119,"t":"0"},{"p":["a","b","c","d"],"k":"l","u":30,"v":151,"t":"−1"},{"p":["a","b","c","d"],"k":"l","u":33,"v":184,"t":"−2"},
{"p":["a","b","c","d"],"k":"l","u":39,"v":212,"t":"−600"},{"p":["a","b","c","d"],"k":"l","u":57,"v":218,"t":"−400"},{"p":["a","b","c","d"],"k":"l","u":77,"v":226,"t":"−200"},{"p":["a","b","c","d"],"k":"l","u":102,"v":232,"t":"0"},{"p":["a","b","c","d"],"k":"l","u":117,"v":240,"t":"200"},{"p":["a","b","c","d"],"k":"l","u":138,"v":248,"t":"400"},{"p":["a","b","c","d"],"k":"l","u":159,"v":256,"t":"600"},
{"p":["a","b","c","d"],"k":"l","u":307,"v":202,"t":"1200"},{"p":["a","b","c","d"],"k":"l","u":297,"v":208,"t":"1000"},{"p":["a","b","c","d"],"k":"l","u":282,"v":215,"t":"800"},{"p":["a","b","c","d"],"k":"l","u":271,"v":222,"t":"600"},{"p":["a","b","c","d"],"k":"l","u":257,"v":227,"t":"400"},{"p":["a","b","c","d"],"k":"l","u":245,"v":234,"t":"200"},{"p":["a","b","c","d"],"k":"l","u":227,"v":242,"t":"0"},{"p":["a","b","c","d"],"k":"l","u":220,"v":249,"t":"−200"},{"p":["a","b","c","d"],"k":"l","u":206,"v":257,"t":"−400"},
{"p":["a","b","c","d"],"k":"a","u":87,"v":242,"t":"Y/m"},{"p":["a","b","c","d"],"k":"a","u":271,"v":236,"t":"X/m"},{"p":["a","b","c","d"],"k":"w","u":20,"v":123,"t":"ε (mm/m)"},
{"p":["e"],"k":"l","u":26,"v":41,"t":"2"},{"p":["e"],"k":"l","u":28,"v":74,"t":"1"},{"p":["e"],"k":"l","u":30,"v":106,"t":"0"},{"p":["e"],"k":"l","u":29,"v":137,"t":"−1"},{"p":["e"],"k":"l","u":32,"v":170,"t":"−2"},
{"p":["e"],"k":"l","u":40,"v":197,"t":"−600"},{"p":["e"],"k":"l","u":56,"v":204,"t":"−400"},{"p":["e"],"k":"l","u":74,"v":211,"t":"−200"},{"p":["e"],"k":"l","u":98,"v":218,"t":"0"},{"p":["e"],"k":"l","u":114,"v":226,"t":"200"},{"p":["e"],"k":"l","u":134,"v":233,"t":"400"},{"p":["e"],"k":"l","u":155,"v":241,"t":"600"},
{"p":["e"],"k":"l","u":300,"v":188,"t":"1200"},{"p":["e"],"k":"l","u":290,"v":194,"t":"1000"},{"p":["e"],"k":"l","u":276,"v":201,"t":"800"},{"p":["e"],"k":"l","u":264,"v":207,"t":"600"},{"p":["e"],"k":"l","u":252,"v":213,"t":"400"},{"p":["e"],"k":"l","u":239,"v":221,"t":"200"},{"p":["e"],"k":"l","u":222,"v":227,"t":"0"},{"p":["e"],"k":"l","u":215,"v":234,"t":"−200"},{"p":["e"],"k":"l","u":200,"v":242,"t":"−400"},
{"p":["e"],"k":"a","u":85,"v":227,"t":"Y/m"},{"p":["e"],"k":"a","u":265,"v":222,"t":"X/m"},{"p":["e"],"k":"w","u":20,"v":110,"t":"ε (mm/m)"},
{"p":["f"],"k":"l","u":20,"v":41,"t":"2"},{"p":["f"],"k":"l","u":22,"v":74,"t":"1"},{"p":["f"],"k":"l","u":24,"v":106,"t":"0"},{"p":["f"],"k":"l","u":23,"v":137,"t":"−1"},{"p":["f"],"k":"l","u":26,"v":170,"t":"−2"},
{"p":["f"],"k":"l","u":34,"v":197,"t":"−600"},{"p":["f"],"k":"l","u":50,"v":204,"t":"−400"},{"p":["f"],"k":"l","u":68,"v":211,"t":"−200"},{"p":["f"],"k":"l","u":92,"v":218,"t":"0"},{"p":["f"],"k":"l","u":108,"v":226,"t":"200"},{"p":["f"],"k":"l","u":128,"v":233,"t":"400"},{"p":["f"],"k":"l","u":149,"v":241,"t":"600"},
{"p":["f"],"k":"l","u":294,"v":188,"t":"1200"},{"p":["f"],"k":"l","u":284,"v":194,"t":"1000"},{"p":["f"],"k":"l","u":270,"v":201,"t":"800"},{"p":["f"],"k":"l","u":258,"v":207,"t":"600"},{"p":["f"],"k":"l","u":246,"v":213,"t":"400"},{"p":["f"],"k":"l","u":233,"v":221,"t":"200"},{"p":["f"],"k":"l","u":216,"v":227,"t":"0"},{"p":["f"],"k":"l","u":209,"v":234,"t":"−200"},{"p":["f"],"k":"l","u":194,"v":242,"t":"−400"},
{"p":["f"],"k":"a","u":79,"v":227,"t":"Y/m"},{"p":["f"],"k":"a","u":259,"v":222,"t":"X/m"},{"p":["f"],"k":"w","u":14,"v":110,"t":"ε (mm/m)"},
{"p":["g"],"k":"l","u":33,"v":29,"t":"2"},{"p":["g"],"k":"l","u":35,"v":63,"t":"1"},{"p":["g"],"k":"l","u":36,"v":97,"t":"0"},{"p":["g"],"k":"l","u":33,"v":130,"t":"−1"},{"p":["g"],"k":"l","u":38,"v":163,"t":"−2"},
{"p":["g"],"k":"l","u":41,"v":192,"t":"−600"},{"p":["g"],"k":"l","u":59,"v":198,"t":"−400"},{"p":["g"],"k":"l","u":78,"v":206,"t":"−200"},{"p":["g"],"k":"l","u":105,"v":213,"t":"0"},{"p":["g"],"k":"l","u":121,"v":220,"t":"200"},{"p":["g"],"k":"l","u":142,"v":228,"t":"400"},{"p":["g"],"k":"l","u":163,"v":236,"t":"600"},
{"p":["g"],"k":"l","u":315,"v":182,"t":"1200"},{"p":["g"],"k":"l","u":304,"v":188,"t":"1000"},{"p":["g"],"k":"l","u":290,"v":195,"t":"800"},{"p":["g"],"k":"l","u":278,"v":202,"t":"600"},{"p":["g"],"k":"l","u":265,"v":208,"t":"400"},{"p":["g"],"k":"l","u":252,"v":215,"t":"200"},{"p":["g"],"k":"l","u":233,"v":222,"t":"0"},{"p":["g"],"k":"l","u":227,"v":230,"t":"−200"},{"p":["g"],"k":"l","u":212,"v":237,"t":"−400"},
{"p":["g"],"k":"a","u":91,"v":222,"t":"Y/m"},{"p":["g"],"k":"a","u":278,"v":216,"t":"X/m"},{"p":["g"],"k":"w","u":27,"v":100,"t":"ε (mm/m)"},

{"p":"a","k":"n","u":130,"v":122,"t":"0.5"},{"p":"a","k":"n","u":172,"v":105,"t":"0.5"},
{"p":"b","k":"n","u":136,"v":119,"t":"0.9"},{"p":"b","k":"n","u":177,"v":104,"t":"0.9"},
{"p":"c","k":"n","u":151,"v":62,"t":"1.9"},{"p":"c","k":"n","u":200,"v":49,"t":"1.9"},{"p":"c","k":"n","u":143,"v":187,"t":"−2"},{"p":"c","k":"n","u":188,"v":179,"t":"−2"},
{"p":"d","k":"n","u":139,"v":41,"t":"2.4"},{"p":"d","k":"n","u":195,"v":29,"t":"2.4"},{"p":"d","k":"n","u":153,"v":203,"t":"−2.4"},{"p":"d","k":"n","u":180,"v":192,"t":"−2.4"},
{"p":"e","k":"n","u":154,"v":69,"t":"1.4"},{"p":"e","k":"n","u":222,"v":51,"t":"1.4"},{"p":"e","k":"n","u":134,"v":158,"t":"−1.5"},{"p":"e","k":"n","u":208,"v":149,"t":"−1.5"},
{"p":"f","k":"n","u":142,"v":67,"t":"1.4"},{"p":"f","k":"n","u":210,"v":50,"t":"1.4"},{"p":"f","k":"n","u":166,"v":159,"t":"−1.5"},{"p":"f","k":"n","u":197,"v":147,"t":"−1.5"},
{"p":"g","k":"n","u":142,"v":76,"t":"0.9"},{"p":"g","k":"n","u":211,"v":56,"t":"0.9"},{"p":"g","k":"n","u":180,"v":137,"t":"−1"},

{"p":"a","k":"h","u":4,"v":10,"t":"(a) 139d"},{"p":"b","k":"h","u":4,"v":10,"t":"(b) 202d"},{"p":"c","k":"h","u":4,"v":9,"t":"(c) 266d"},{"p":"d","k":"h","u":4,"v":9,"t":"(d) 333d"},{"p":"e","k":"h","u":3,"v":-1,"t":"(e) 430d"},{"p":"f","k":"h","u":-2,"v":-1,"t":"(f) 517d"},{"p":"g","k":"h","u":6,"v":-14,"t":"(g) 657d"},

{"p":["b","d"],"k":"o","u":209,"v":10,"u2":209,"v2":248},{"p":"f","k":"o","u":198,"v":0,"u2":198,"v2":233}
]},
"transform":[{"flatten":["p"]}],
"facet":{"field":"p","type":"nominal","header":{"labels":false,"title":null,"labelPadding":0,"labelExpr":"''","labelFontSize":0}},"columns":2,"spacing":{"row":51,"column":53},"bounds":"flush",
"spec":{"width":316,"height":244,
"encoding":{"x":{"field":"u","type":"quantitative","scale":{"domain":[0,316],"nice":false,"zero":false},"axis":null},"y":{"field":"v","type":"quantitative","scale":{"domain":[244,0],"nice":false,"zero":false},"axis":null}},
"layer":[
{"transform":[{"filter":"datum.k==='g'"}],"mark":{"type":"rule","stroke":"#cdd5d6","strokeWidth":0.7},"encoding":{"x2":{"field":"u2"},"y2":{"field":"v2"}}},
{"transform":[{"filter":"datum.k==='e'"}],"mark":{"type":"rule","stroke":"#a6acac","strokeWidth":0.8},"encoding":{"x2":{"field":"u2"},"y2":{"field":"v2"}}},
{"transform":[{"filter":"datum.k==='d'"}],"mark":{"type":"rule","stroke":"#666666","strokeWidth":1},"encoding":{"x2":{"field":"u2"},"y2":{"field":"v2"}}},
{"transform":[{"filter":"datum.k==='f'"}],"mark":{"type":"area","opacity":1},"encoding":{"y2":{"field":"v2"},"color":{"field":"e","type":"quantitative","scale":{"domain":[-2.4,-1.1,-0.2,0.25,0.7,1.3,2.3,2.4],"range":["#ff00ff","#0000ff","#00ffff","#80f080","#ffff00","#ff9900","#ff0000","#c80000"]},"legend":{"type":"gradient","orient":"none","legendX":411,"legendY":963,"direction":"horizontal","gradientLength":264,"gradientThickness":10,"title":"Horizontal deformation (mm/m)","titleFont":"Liberation Serif","titleFontSize":9.5,"titleFontWeight":"normal","titleColor":"#333333","titleAnchor":"middle","titlePadding":14,"values":[-2.4,-1.6,-0.8,0,0.8,1.7,2.4],"format":".1f","labelFont":"Liberation Serif","labelFontSize":8,"labelColor":"#555555","labelOffset":-21,"gradientStrokeColor":"#555555","gradientStrokeWidth":0.6}}}},
{"transform":[{"filter":"datum.k==='b'"}],"mark":{"type":"point","filled":true,"opacity":1,"stroke":"#555548","shape":"M-1,0A1,0.38 0 1 1 1,0A1,0.38 0 1 1 -1,0Z"},"encoding":{
"color":{"field":"e","type":"quantitative"},
"size":{"field":"r","type":"quantitative","scale":{"type":"pow","exponent":2,"domain":[0,100],"range":[0,40000]},"legend":null},
"strokeWidth":{"condition":{"test":"datum.c===1","value":0.4},"value":0}}},
{"transform":[{"filter":"datum.k==='x'"}],"mark":{"type":"rule","stroke":"#111111","strokeWidth":1},"encoding":{"x2":{"field":"u2"},"y2":{"field":"v2"}}},
{"transform":[{"filter":"datum.k==='y'"}],"mark":{"type":"rule","stroke":"#2f6f6f","strokeWidth":0.6},"encoding":{"x2":{"field":"u2"},"y2":{"field":"v2"}}},
{"transform":[{"filter":"datum.k==='m'"}],"mark":{"type":"point","filled":true,"opacity":1,"shape":"M-1,0A1,0.38 0 1 1 1,0A1,0.38 0 1 1 -1,0Z"},"encoding":{
"fill":{"field":"e","type":"quantitative","scale":{"domain":[-2.4,-1.8,-1.1,-0.5,-0.2,0,0.25,0.5,1,1.5,1.9,2.4],"range":["#e020f0","#9020e0","#2828d8","#2890e0","#40c8c8","#63b49c","#95bf68","#c8c630","#e0b828","#e88820","#dc5818","#e01810"]},"legend":null},
"size":{"field":"r","type":"quantitative","legend":null},"strokeWidth":{"value":0}}},
{"transform":[{"filter":"datum.k==='q'"}],"mark":{"type":"area","opacity":1},"encoding":{"y2":{"field":"v2"},"fill":{"field":"e","type":"quantitative","legend":null}}},
{"transform":[{"filter":"datum.k==='z'"}],"mark":{"type":"rule","stroke":"#3a6f66","strokeWidth":0.6},"encoding":{"x2":{"field":"u2"},"y2":{"field":"v2"}}},
{"transform":[{"filter":"datum.k==='s'"}],"mark":{"type":"point","filled":true,"opacity":1,"stroke":"#55553f","shape":"M-1,0A1,0.38 0 1 1 1,0A1,0.38 0 1 1 -1,0Z"},"encoding":{
"fill":{"field":"e","type":"quantitative","legend":null},
"size":{"field":"r","type":"quantitative","legend":null},
"strokeWidth":{"condition":{"test":"datum.c===1","value":0.5},"value":0}}},
{"transform":[{"filter":"datum.k==='l'"}],"mark":{"type":"text","font":"Liberation Serif","fontSize":8,"fill":"#4d4d4d"},"encoding":{"text":{"field":"t"}}},
{"transform":[{"filter":"datum.k==='a'"}],"mark":{"type":"text","font":"Liberation Serif","fontSize":10.5,"fontWeight":"bold","fontStyle":"italic","fill":"#222222"},"encoding":{"text":{"field":"t"}}},
{"transform":[{"filter":"datum.k==='w'"}],"mark":{"type":"text","font":"Liberation Serif","fontSize":10,"fontWeight":"bold","angle":270,"fill":"#222222"},"encoding":{"text":{"field":"t"}}},
{"transform":[{"filter":"datum.k==='n'"}],"mark":{"type":"text","font":"Liberation Serif","fontSize":11,"fontWeight":"bold","fill":"#111111"},"encoding":{"text":{"field":"t"}}},
{"transform":[{"filter":"datum.k==='h'"}],"mark":{"type":"text","font":"Liberation Serif","fontSize":9,"align":"left","fill":"#444444"},"encoding":{"text":{"field":"t"}}},
{"transform":[{"filter":"datum.k==='o'"}],"mark":{"type":"rule","stroke":"#ffffff","strokeWidth":1},"encoding":{"x2":{"field":"u2"},"y2":{"field":"v2"}}}
]}}
